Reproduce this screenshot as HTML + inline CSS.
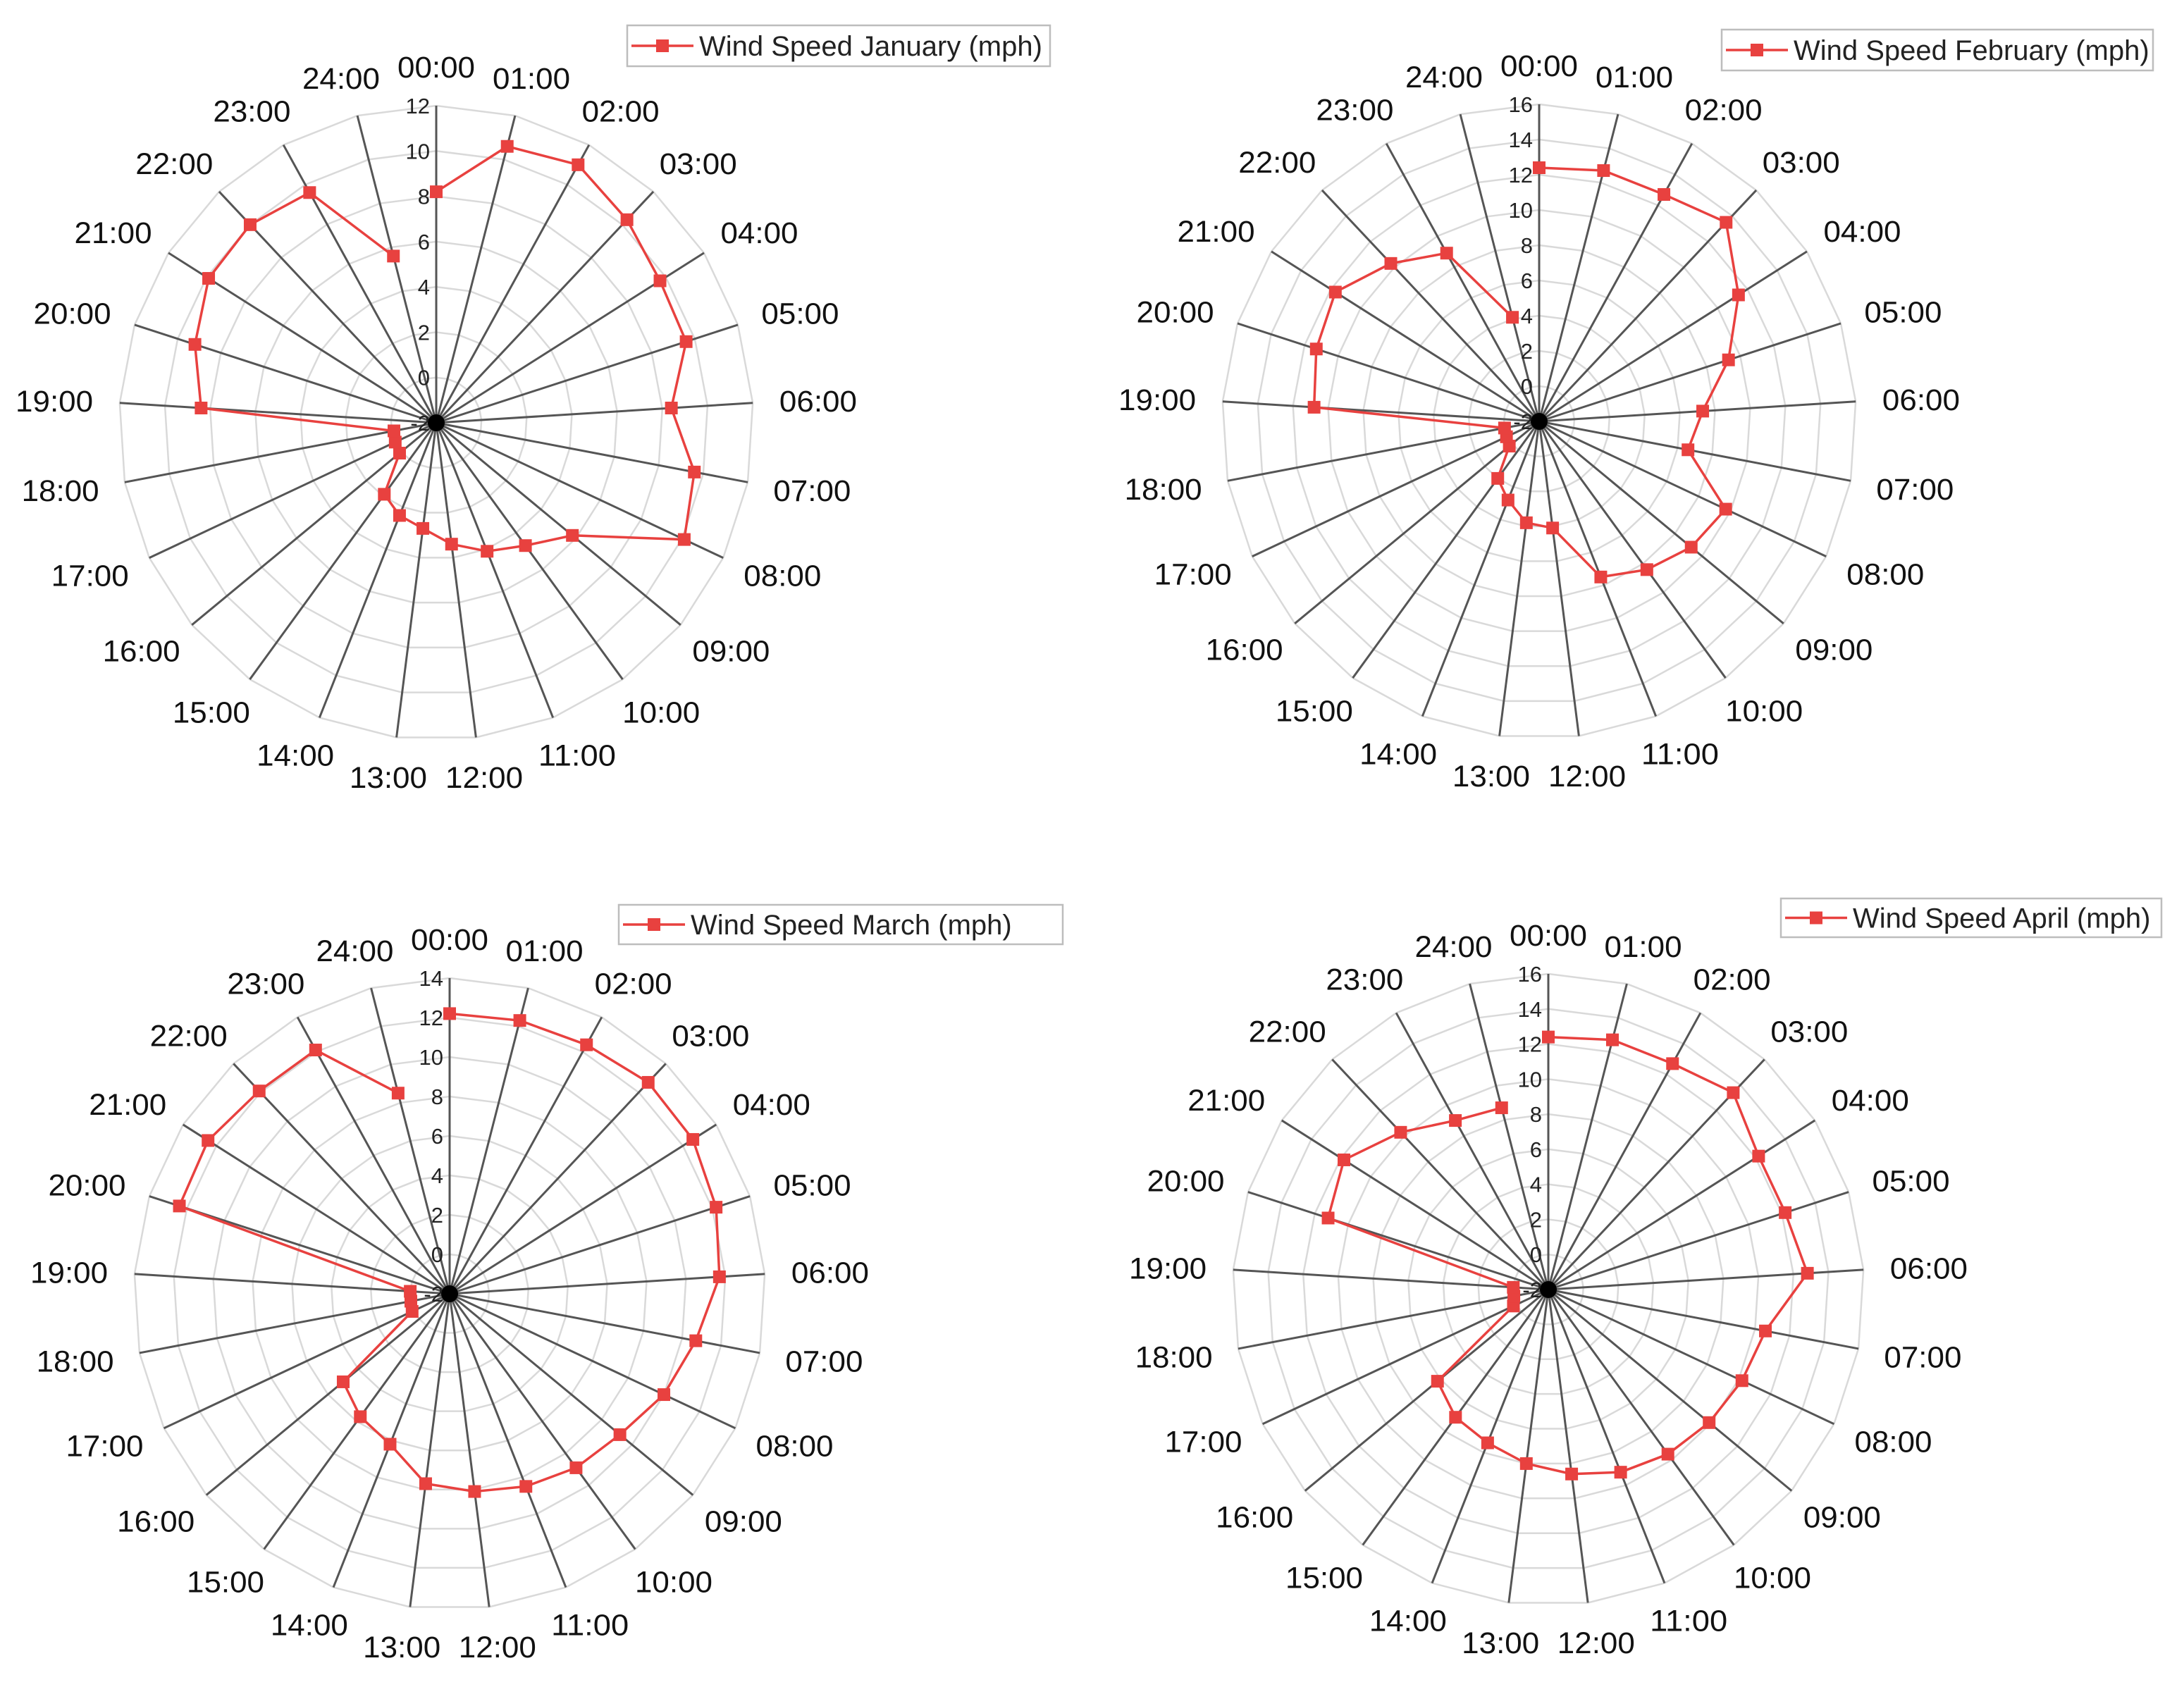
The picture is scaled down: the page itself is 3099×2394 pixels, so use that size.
<!DOCTYPE html>
<html><head><meta charset="utf-8">
<style>
html,body{margin:0;padding:0;background:#fff;}
svg{display:block;}
text{font-family:"Liberation Sans",Arial,sans-serif;}
</style></head>
<body>
<svg id="chart" width="3099" height="2394" viewBox="0 0 3099 2394" xmlns="http://www.w3.org/2000/svg"></svg>
<script>
const hours = ["00:00","01:00","02:00","03:00","04:00","05:00","06:00","07:00","08:00","09:00","10:00","11:00","12:00","13:00","14:00","15:00","16:00","17:00","18:00","19:00","20:00","21:00","22:00","23:00","24:00"];
const janValues = [8.2,10.6,11.0,10.3,9.7,9.6,8.4,9.6,10.1,5.8,4.7,4.1,3.4,2.7,2.4,1.9,0.1,0,-0.1,8.4,9.2,9.9,10.0,9.6,5.6];
const febValues = [12.4,12.7,12.7,13.5,11.4,9.3,7.3,6.6,9.7,9.2,8.4,7.5,4.1,3.8,2.8,2.0,0.2,0.05,0,10.8,11.3,11.7,10.3,8.9,4.1];
const marValues = [12.2,12.3,12.4,12.7,12.6,12.2,11.7,10.7,10.0,9.2,8.9,8.5,8.1,7.7,6.2,5.7,5.0,0.1,0,0,12.4,12.5,12.1,12.1,8.5];
const aprValues = [12.4,12.7,12.7,13.4,12.2,12.2,12.8,10.6,10.2,9.9,9.6,9.2,8.6,8.0,7.4,7.0,6.2,0.2,0,0,11.2,11.8,10.3,9.0,8.7];
const janTicks = [-2,0,2,4,6,8,10,12];
const febTicks = [-2,0,2,4,6,8,10,12,14,16];
const marTicks = [-2,0,2,4,6,8,10,12,14];
const aprTicks = [-2,0,2,4,6,8,10,12,14,16];
const seriesNames = ["Wind Speed January (mph)","Wind Speed February (mph)","Wind Speed March (mph)","Wind Speed April (mph)"];

const NS = "http://www.w3.org/2000/svg";
const svg = document.getElementById("chart");
function mk(tag, attrs, parent){
  const e = document.createElementNS(NS, tag);
  for (const k in attrs) e.setAttribute(k, attrs[k]);
  (parent||svg).appendChild(e);
  return e;
}
const panels = [
  {key:"january", cx:619, cy:600, R:450, vals:janValues, ticks:janTicks, name:seriesNames[0], lx:890, ly:36, lw:600, lh:58},
  {key:"february", cx:2184, cy:598, R:450, vals:febValues, ticks:febTicks, name:seriesNames[1], lx:2443, ly:42, lw:612, lh:58},
  {key:"march", cx:638, cy:1836, R:448, vals:marValues, ticks:marTicks, name:seriesNames[2], lx:878, ly:1284, lw:630, lh:56},
  {key:"april", cx:2197, cy:1830, R:448, vals:aprValues, ticks:aprTicks, name:seriesNames[3], lx:2527, ly:1275, lw:540, lh:55}
];
panels.forEach(p => {
  const g = mk("g", {});
  
  
  const n = hours.length;
  const tmin = p.ticks[0], tmax = p.ticks[p.ticks.length-1];
  const rScale = v => (v - tmin) / (tmax - tmin) * p.R;
  const ang = i => i * 2 * Math.PI / n;
  const pt = (i, r) => [p.cx + r*Math.sin(ang(i)), p.cy - r*Math.cos(ang(i))];
  p.ticks.forEach(t => {
    if (t === tmin) return;
    const r = rScale(t);
    const pts = hours.map((h,i)=>pt(i,r).join(",")).join(" ");
    const ring = mk("polygon", {points:pts, fill:"none", stroke:"#d9d9d9", "stroke-width":2.5}, g);
    
    
  });
  hours.forEach((h,i) => {
    const [x,y] = pt(i, p.R);
    const s = mk("line", {x1:p.cx, y1:p.cy, x2:x, y2:y, stroke:"#555", "stroke-width":3}, g);
    
    
  });
  const dot = mk("circle", {cx:p.cx, cy:p.cy, r:12, fill:"#000"}, g);
  
  
  p.ticks.forEach(t => {
    const y = p.cy - rScale(t);
    const tl = mk("text", {x:p.cx-9, y:y+11, "text-anchor":"end", "font-size":31, fill:"#222"}, g);
    tl.textContent = String(t);
    
    
  });
  hours.forEach((h,i) => {
    const a = ang(i);
    const dx = Math.sin(a), dy = -Math.cos(a);
    const w = 110, hh = 36, off = p.R + 38;
    const x = p.cx + dx*off + dx*w/2;
    const y = p.cy + dy*off + dy*hh/2;
    const cl = mk("text", {x:x, y:y+hh/2-2, "text-anchor":"middle", "font-size":43, fill:"#111", textLength:110, lengthAdjust:"spacingAndGlyphs"}, g);
    cl.textContent = h;
    
    
  });
  const spts = p.vals.map((v,i)=>pt(i, rScale(v)).join(",")).join(" ");
  const line = mk("polyline", {points:spts, fill:"none", stroke:"#e8413f", "stroke-width":3.5, "stroke-linejoin":"round"}, g);
  
  
  p.vals.forEach((v,i) => {
    const [x,y] = pt(i, rScale(v));
    const m = mk("rect", {x:x-9, y:y-9, width:18, height:18, fill:"#e8413f"}, g);
    
    
  });
  const lg = mk("g", {}, g);
  
  
  mk("rect", {x:p.lx, y:p.ly, width:p.lw, height:p.lh, fill:"#fff", stroke:"#bdbdbd", "stroke-width":2.5}, lg);
  const my = p.ly + p.lh/2;
  mk("line", {x1:p.lx+6, y1:my, x2:p.lx+94, y2:my, stroke:"#e8413f", "stroke-width":3.5}, lg);
  mk("rect", {x:p.lx+41, y:my-9, width:18, height:18, fill:"#e8413f"}, lg);
  const lt = mk("text", {x:p.lx+102, y:my+14, "font-size":40, fill:"#222"}, lg);
  lt.textContent = p.name;
  
  
});
</script>
</body></html>
